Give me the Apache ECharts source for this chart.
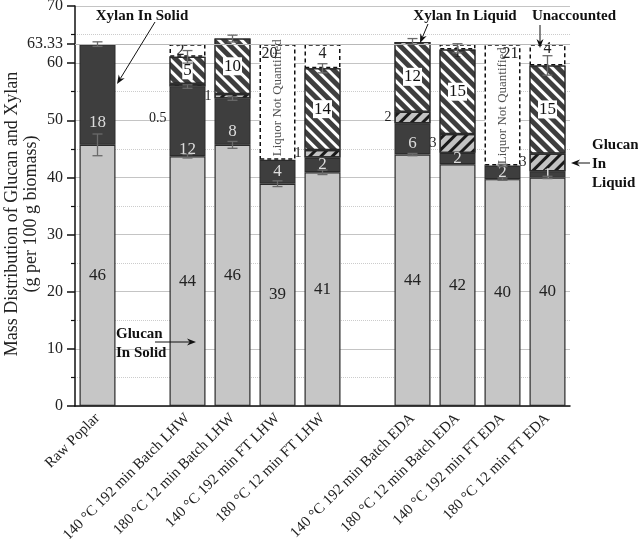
<!DOCTYPE html>
<html><head><meta charset="utf-8">
<script src="https://cdn.jsdelivr.net/npm/echarts@6/dist/echarts.min.js"></script>
<style>html,body{margin:0;padding:0;background:#fff}#c{width:638px;height:539px}</style>
</head><body><div id="c"></div>
<script>
// ---------- data ----------
const categories = ['Raw Poplar', '', '140 °C 192 min Batch LHW', '180 °C 12 min Batch LHW', '140 °C 192 min FT LHW', '180 °C 12 min FT LHW', '', '140 °C 192 min Batch EDA', '180 °C 12 min Batch EDA', '140 °C 192 min FT EDA', '180 °C 12 min FT EDA'];
const glucanSolid  = [45.7, null, 43.7, 45.7, 38.9, 40.9, null, 44.0, 42.3, 39.7, 40.0];
const xylanSolid   = [17.6, null, 12.2, 8.1, 4.2, 2.6, null, 5.5, 2.0, 2.4, 1.1];
const glucanLiquid = [null, null, 0.5, 0.8, null, 1.3, null, 2.0, 3.3, null, 3.1];
const xylanLiquid  = [null, null, 4.7, 9.7, null, 14.3, null, 12.2, 14.8, null, 15.4];
const unaccounted  = [null, null, 2.2, null, 20.2, 4.2, null, null, 0.9, 21.2, 3.7];

const glucanSolidLabels  = ['46', '', '44', '46', '39', '41', '', '44', '42', '40', '40'];
const xylanSolidLabels   = ['18', '', '12', '8', '4', '2', '', '6', '2', '2', '1'];
const glucanLiquidLabels = ['', '', '0.5', '1', '', '1', '', '2', '3', '', '3'];
const xylanLiquidLabels  = ['', '', '5', '10', '', '14', '', '12', '15', '', '15'];
const unaccountedLabels  = ['', '', '2', '', '20', '4', '', '', '1', '21', '4'];

const yTickValues = [0, 10, 20, 30, 40, 50, 60, 63.33, 70];
const totalLine = 63.33;
// [category index, value, half-range]
const errorBars = [
  [0, 45.7, 1.9], [0, 63.33, 0.4],
  [2, 43.7, 0.3], [2, 55.9, 0.3], [2, 61.1, 1.1],
  [3, 45.7, 0.6], [3, 53.8, 0.3], [3, 64.3, 0.6],
  [4, 38.9, 0.5],
  [5, 40.9, 0.4], [5, 59.1, 0.8],
  [7, 44.0, 0.2], [7, 63.8, 0.5],
  [8, 62.6, 0.8],
  [9, 39.7, 0.2], [9, 42.1, 0.2],
  [10, 40.0, 0.2], [10, 59.6, 1.7]
];
const notQuantified = [[4, 53.6], [9, 52.9]];
const notQuantifiedText = 'Liquor Not Quantified';

// ---------- styling ----------
const F = 'Liberation Serif';
const xylanSolidLabelStyle = {0: {offset: [0, 28]}, 2: {offset: [0, 28]}, 3: {offset: [0, 10]}, 7: {offset: [0, 5]}};
const glucanLiquidLabelStyle = {2: {offset: [0, 33]}};
const unaccountedLabelStyle = {
  2: {offset: [-7, 0]},
  4: {position: 'insideTopLeft', distance: 2},
  5: {offset: [0, -2]},
  8: {offset: [0, 6]},
  9: {position: 'insideTopRight', distance: 2},
  10: {offset: [0, -6]}
};
const noteOffsets = [[2, 0], [-2, 0]];

function items(values, labels, styles) {
  return values.map((v, i) => v == null ? '-' : {
    value: v,
    label: Object.assign({formatter: labels[i]}, (styles && styles[i]) || {})
  });
}

const barBase = {type: 'bar', stack: 'total', barWidth: 36};
const border = {borderColor: '#2a2a2a', borderWidth: 1.2};

const chart = echarts.init(document.getElementById('c'), null, {renderer: 'canvas'});

function arrow(x1, y1, x2, y2) {
  const a = Math.atan2(y2 - y1, x2 - x1), L = 9, W = 3.5;
  const bx = x2 - L * Math.cos(a), by = y2 - L * Math.sin(a);
  const px = -Math.sin(a) * W, py = Math.cos(a) * W;
  const mx = bx + (x2 - bx) * 0.3, my = by + (y2 - by) * 0.3;
  return [
    {type: 'line', z: 100, shape: {x1: x1, y1: y1, x2: mx, y2: my}, style: {stroke: '#111', lineWidth: 1}},
    {type: 'polygon', z: 100, shape: {points: [[x2, y2], [bx + px, by + py], [mx, my], [bx - px, by - py]]}, style: {fill: '#111'}}
  ];
}
function note(text, x, y, align) {
  return {type: 'text', z: 100, x: x, y: y, style: {text: text, font: 'bold 15px "' + F + '"', fill: '#111', align: align || 'center', verticalAlign: 'middle', lineHeight: 19}};
}

const option = {
  animation: false,
  backgroundColor: '#fff',
  grid: {left: 75, right: 68, top: 6, bottom: 133, containLabel: false, outerBoundsMode: 'none'},
  xAxis: {
    type: 'category', data: categories,
    axisLine: {lineStyle: {color: '#111', width: 1.5}},
    axisTick: {alignWithLabel: true, length: 7, lineStyle: {color: '#111', width: 1.5}},
    axisLabel: {rotate: 45, interval: 0, margin: 10, fontFamily: F, fontSize: 15, color: '#222'},
    splitLine: {show: false}
  },
  yAxis: {
    type: 'value', min: 0, max: 70, interval: 10,
    axisLine: {show: true, lineStyle: {color: '#111', width: 1.5}},
    axisTick: {show: true, length: 8, lineStyle: {color: '#111', width: 1.5}, customValues: yTickValues},
    minorTick: {show: true, splitNumber: 2, length: 4, lineStyle: {color: '#111', width: 1.2}},
    axisLabel: {fontFamily: F, fontSize: 16, color: '#222', margin: 12, customValues: yTickValues},
    splitLine: {show: true, lineStyle: {color: '#c4c4c4', width: 1}},
    minorSplitLine: {show: true, lineStyle: {color: '#cccccc', width: 1, type: 'dotted'}}
  },
  series: [
    Object.assign({}, barBase, {
      name: 'Glucan In Solid',
      itemStyle: Object.assign({color: '#c6c6c6'}, border),
      label: {show: true, position: 'inside', fontFamily: F, fontSize: 17, color: '#222'},
      data: items(glucanSolid, glucanSolidLabels),
      markLine: {
        silent: true, symbol: 'none',
        lineStyle: {color: '#b8b8b8', width: 1, type: 'solid'},
        label: {show: false},
        data: [{yAxis: totalLine}]
      }
    }),
    Object.assign({}, barBase, {
      name: 'Xylan In Solid',
      itemStyle: Object.assign({color: '#3e3e3e'}, border),
      label: {show: true, position: 'inside', fontFamily: F, fontSize: 17, color: '#dcdcdc'},
      data: items(xylanSolid, xylanSolidLabels, xylanSolidLabelStyle)
    }),
    Object.assign({}, barBase, {
      name: 'Glucan In Liquid',
      itemStyle: Object.assign({color: '#c2c2c2', decal: {symbol: 'rect', symbolSize: 1, dashArrayX: [1, 0], dashArrayY: [2.5, 5], rotation: -Math.PI / 4, color: '#1a1a1a'}}, border),
      label: {show: true, position: 'left', distance: 3, fontFamily: F, fontSize: 14, color: '#222'},
      data: items(glucanLiquid, glucanLiquidLabels, glucanLiquidLabelStyle)
    }),
    Object.assign({}, barBase, {
      name: 'Xylan In Liquid',
      itemStyle: Object.assign({color: '#3e3e3e', decal: {symbol: 'rect', symbolSize: 1, dashArrayX: [1, 0], dashArrayY: [3, 4.5], rotation: Math.PI / 4, color: '#ffffff'}}, border),
      label: {show: true, position: 'inside', fontFamily: F, fontSize: 17, color: '#111', backgroundColor: '#fff', padding: [1, 1, 0, 1]},
      data: items(xylanLiquid, xylanLiquidLabels)
    }),
    Object.assign({}, barBase, {
      name: 'Unaccounted',
      itemStyle: {color: '#fff', borderColor: '#111', borderWidth: 1.5, borderType: [4, 3]},
      label: {show: true, position: 'inside', fontFamily: F, fontSize: 16, color: '#222'},
      data: items(unaccounted, unaccountedLabels, unaccountedLabelStyle)
    }),
    {
      type: 'scatter', name: 'note', symbolSize: 0, silent: true, z: 5,
      label: {show: true, position: 'inside', rotate: 90, formatter: notQuantifiedText, fontFamily: F, fontSize: 13, color: '#222'},
      data: notQuantified.map((p, i) => ({value: p, label: {offset: noteOffsets[i]}}))
    },
    {
      type: 'custom', name: 'error', z: 10, silent: true,
      encode: {x: 0, y: 1},
      renderItem: function (params, api) {
        const x = api.value(0), y = api.value(1), h = api.value(2);
        const t = api.coord([x, y + h]), b = api.coord([x, y - h]);
        const w = 5, st = {stroke: '#6a6a6a', lineWidth: 1.3};
        return {type: 'group', children: [
          {type: 'line', shape: {x1: t[0], y1: t[1], x2: b[0], y2: b[1]}, style: st},
          {type: 'line', shape: {x1: t[0] - w, y1: t[1], x2: t[0] + w, y2: t[1]}, style: st},
          {type: 'line', shape: {x1: b[0] - w, y1: b[1], x2: b[0] + w, y2: b[1]}, style: st}
        ]};
      },
      data: errorBars
    }
  ],
  graphic: [].concat(
    [
      {type: 'text', x: 12, y: 214, rotation: Math.PI / 2, style: {text: 'Mass Distribution of Glucan and Xylan', font: '18px "' + F + '"', fill: '#222', align: 'center', verticalAlign: 'middle'}},
      {type: 'text', x: 31, y: 214, rotation: Math.PI / 2, style: {text: '(g per 100 g biomass)', font: '18px "' + F + '"', fill: '#222', align: 'center', verticalAlign: 'middle'}},
      note('Xylan In Solid', 142, 16),
      note('Glucan\nIn Solid', 116, 344, 'left'),
      note('Xylan In Liquid', 465, 16),
      note('Unaccounted', 574, 16),
      note('Glucan\nIn\nLiquid', 592, 164, 'left')
    ],
    arrow(155, 22, 117, 84),
    arrow(155, 342, 196, 342),
    arrow(428, 24, 420, 43),
    arrow(540, 25, 540, 48),
    arrow(590, 163, 571, 163)
  )
};
chart.setOption(option);
</script>
</body></html>
